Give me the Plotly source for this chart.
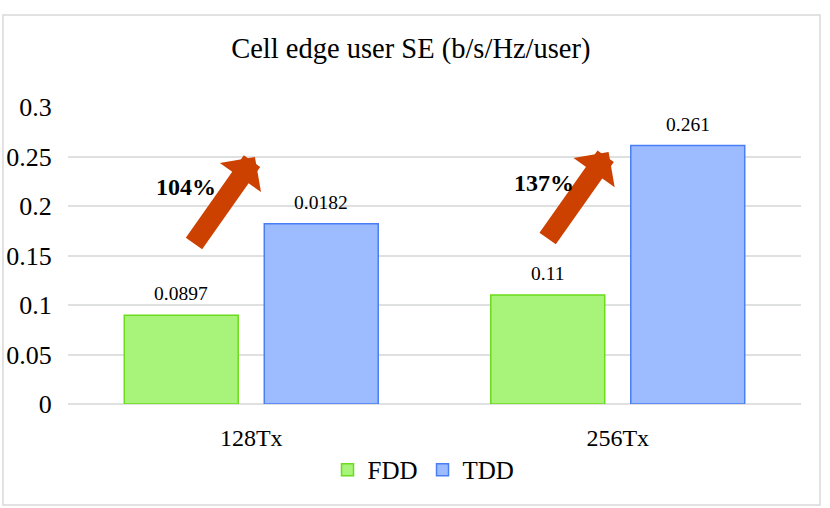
import plotly.graph_objects as go

categories = ["128Tx", "256Tx"]
fdd_values = [0.0897, 0.11]
tdd_values = [0.182, 0.261]
fdd_labels = ["0.0897", "0.11"]
tdd_labels = ["0.0182", "0.261"]
gain_labels = ["104%", "137%"]

serif = "Liberation Serif"

fig = go.Figure()
fig.add_trace(go.Bar(
    x=categories, y=fdd_values, name="FDD",
    marker=dict(color="#a8f37a", line=dict(color="#6bdc1c", width=1.5)),
))
fig.add_trace(go.Bar(
    x=categories, y=tdd_values, name="TDD",
    marker=dict(color="#9dbbff", line=dict(color="#4a7ef5", width=1.5)),
))

annotations = []
# value labels above the bars
for i, cat in enumerate(categories):
    for val, lab, shift in [(fdd_values[i], fdd_labels[i], -70), (tdd_values[i], tdd_labels[i], 70)]:
        annotations.append(dict(
            x=i, y=val, xref="x", yref="y", text=lab, showarrow=False,
            xshift=shift, yshift=9, yanchor="bottom",
            font=dict(family=serif, size=19.5, color="#000000"),
        ))

# big arrows showing the gain
arrow_tips = [(0.01, 0.2495), (0.975, 0.2545)]
for (tx, ty) in arrow_tips:
    annotations.append(dict(
        x=tx, y=ty, xref="x", yref="y", text="", showarrow=True,
        ax=-62, ay=88, arrowhead=1, arrowsize=0.42, arrowwidth=20,
        arrowcolor="#cc4100", standoff=0,
    ))
gain_pos = [(-0.177, 0.219), (0.8, 0.223)]
for (gx, gy), lab in zip(gain_pos, gain_labels):
    annotations.append(dict(
        x=gx, y=gy, xref="x", yref="y", text="<b>" + lab + "</b>", showarrow=False,
        font=dict(family=serif, size=24, color="#000000"),
    ))

fig.update_layout(
    width=830, height=508,
    margin=dict(l=68, r=29, t=107, b=104),
    font=dict(family=serif, color="#000000"),
    paper_bgcolor="white", plot_bgcolor="white",
    title=dict(text="Cell edge user SE (b/s/Hz/user)", x=0.495, xanchor="center",
               y=0.905, yanchor="middle",
               font=dict(family=serif, size=28.5, color="#000000")),
    barmode="group", bargap=0.236, bargroupgap=0.186,
    xaxis=dict(showgrid=False, showline=False, ticks="outside", ticklen=12,
               tickcolor="white", automargin=False,
               tickfont=dict(family=serif, size=24, color="#000000")),
    yaxis=dict(range=[0, 0.3], dtick=0.05, tickformat="~g", showline=False,
               gridcolor="#dfe1e1", gridwidth=1.5, zeroline=True,
               zerolinecolor="#dfe1e1", zerolinewidth=1.5, automargin=False,
               ticks="outside", ticklen=10, tickcolor="white",
               tickfont=dict(family=serif, size=26, color="#000000")),
    legend=dict(orientation="h", x=0.485, xanchor="center", y=-0.222, yanchor="middle",
                font=dict(family=serif, size=25, color="#000000"),
                itemwidth=30, tracegroupgap=0),
    annotations=annotations,
    shapes=[dict(type="rect", xref="paper", yref="paper",
                 x0=-0.0887, x1=1.026, y0=-0.34, y1=1.31,
                 line=dict(color="#d9d9d9", width=1.5))],
)

fig.write_html("out.html", config={"displayModeBar": False},
               post_script="document.body.style.margin='0';")
